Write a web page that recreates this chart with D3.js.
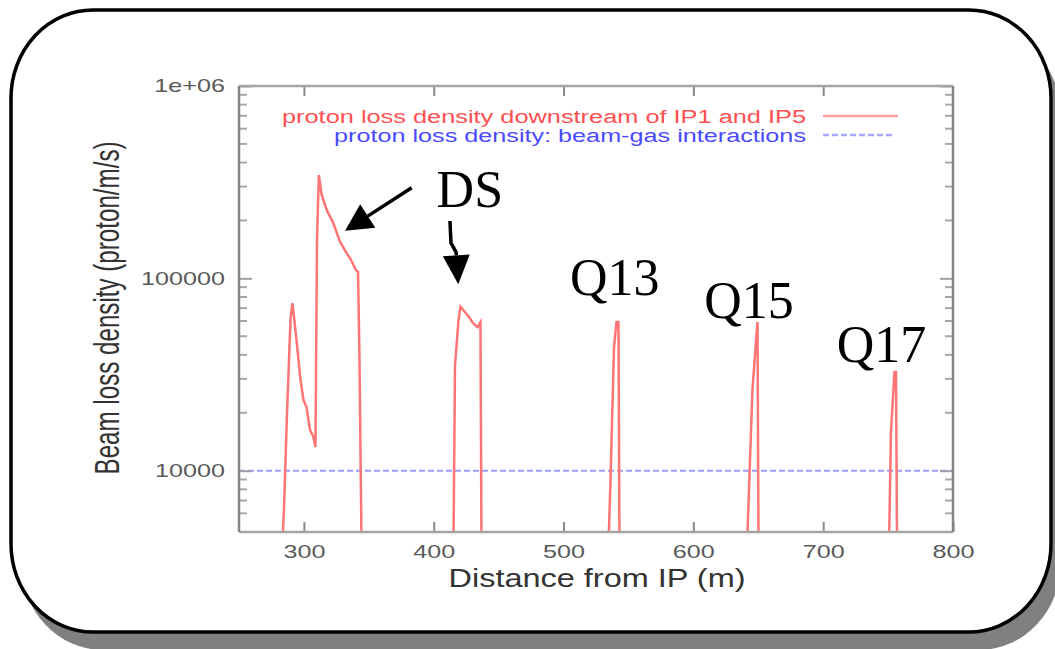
<!DOCTYPE html>
<html>
<head>
<meta charset="utf-8">
<script src="https://cdn.jsdelivr.net/npm/d3@7"></script>
<style>
body { margin: 0; background: #fff; }
svg { display: block; }
</style>
</head>
<body>
<svg id="chart" width="1055" height="649"></svg>
<script>
// proton loss density downstream of IP1 and IP5
// (4000 = below the bottom of the axis, the line runs under the frame there)
var lossDistance = [
  283.4, 284.7, 287.0, 289.7, 291.1, 292.4, 294.7, 297.4, 299.7, 302.0, 304.7, 307.4, 308.9,
  310.1, 311.5, 313.7, 317.6, 322.6, 327.8, 333.0, 335.5, 340.1, 341.7, 342.8, 344.4,
  415.2, 416.4, 419.1, 420.6, 423.3, 427.2, 430.3, 433.7, 436.0, 436.8,
  534.6, 536.2, 538.9, 540.8, 542.3, 543.1,
  641.3, 642.9, 645.5, 648.2, 649.4, 650.2,
  750.7, 752.2, 754.9, 756.1, 756.9
];
var lossDensity = [
  4000, 6470, 19930, 61400, 74390, 62930, 44980, 29590, 23290, 21420, 16260, 14950, 13270,
  158200, 344400, 271200, 226500, 193900, 155000, 134900, 127500, 110400, 107800, 38500, 4000,
  4000, 35400, 60700, 71150, 67610, 62930, 58540, 55810, 59250, 4000,
  4000, 9150, 43930, 59250, 59250, 4000,
  4000, 8120, 26250, 46640, 59250, 4000,
  4000, 15880, 32560, 32560, 4000
];
// proton loss density: beam-gas interactions (flat)
var beamGasLevel = 10000;

var xTicks = [300, 400, 500, 600, 700, 800];
var yTicks = [10000, 100000, 1000000];
var yTickLabels = ["10000", "100000", "1e+06"];
var legendLabels = ["proton loss density downstream of IP1 and IP5",
                    "proton loss density: beam-gas interactions"];

// annotations, in plot coordinates (m, proton/m/s)
var peakLabels = ["DS", "Q13", "Q15", "Q17"];
var peakLabelX = [402.2, 505, 608.4, 710.4];
var peakLabelY = [235700, 81840, 61930, 36800];
var arrowDS1 = [[383.0, 295800], [331.7, 176800]];
var arrowDS2 = [[412.5, 198600], [413.3, 152600], [417.2, 137000], [418.9, 93070]];

function drawLossChart() {
  var svg = d3.select("#chart");
  var plotLeft = 239, plotRight = 953, plotTop = 86, plotBottom = 532;
  var sansFont = "'Liberation Sans', Arial, Helvetica, sans-serif";

  var x = d3.scaleLinear().domain([250, 800]).range([plotLeft, plotRight]);
  var y = d3.scaleLog().domain([4800, 1e6]).range([plotBottom, plotTop]);

  // rounded frame with its shadow
  svg.append("rect")
    .attr("x", 21).attr("y", 28).attr("width", 1040).attr("height", 622)
    .attr("rx", 82).attr("ry", 88)
    .attr("fill", "#808080");
  svg.append("rect")
    .attr("x", 11).attr("y", 10).attr("width", 1040).attr("height", 622)
    .attr("rx", 82).attr("ry", 88)
    .attr("fill", "#fff").attr("stroke", "#000").attr("stroke-width", 3.5);

  svg.append("clipPath").attr("id", "plotClip")
    .append("rect").attr("x", plotLeft).attr("y", plotTop)
    .attr("width", plotRight - plotLeft).attr("height", plotBottom - plotTop);

  var plot = svg.append("g");

  // beam-gas level
  plot.append("line")
    .attr("x1", x(250)).attr("x2", x(800))
    .attr("y1", y(beamGasLevel)).attr("y2", y(beamGasLevel))
    .attr("stroke", "#9d9dff").attr("stroke-width", 2)
    .attr("stroke-dasharray", "6,3");

  // loss density line
  var lossPoints = lossDistance.map((d, i) => [d, lossDensity[i]]);
  plot.append("path")
    .datum(lossPoints)
    .attr("clip-path", "url(#plotClip)")
    .attr("fill", "none")
    .attr("stroke", "#ff7474")
    .attr("stroke-width", 2.5)
    .attr("d", d3.line().x(d => x(d[0])).y(d => y(d[1])));

  // axes, gnuplot style: ticks inside, mirrored
  var xAxis = svg.append("g")
    .attr("transform", `translate(0,${plotBottom})`)
    .call(d3.axisBottom(x).tickValues(xTicks).tickSize(-10).tickPadding(13.5).tickFormat(d3.format("d")));
  xAxis.select(".domain").remove();
  xAxis.selectAll("line").attr("stroke", "#8a8a8a").attr("stroke-width", 2);
  xAxis.selectAll("text")
    .attr("transform", "scale(1.4,1)")
    .attr("font-family", sansFont).attr("font-size", 18).attr("fill", "#5a5a5a");

  var xAxisTop = svg.append("g")
    .attr("transform", `translate(0,${plotTop})`)
    .call(d3.axisTop(x).tickValues(xTicks.slice(0, -1)).tickSize(-10).tickFormat(""));
  xAxisTop.select(".domain").remove();
  xAxisTop.selectAll("line").attr("stroke", "#8a8a8a").attr("stroke-width", 2);

  var yAxis = svg.append("g")
    .attr("transform", `translate(${plotLeft},0)`)
    .call(d3.axisLeft(y).tickValues(yTicks).tickSize(-13).tickPadding(0).tickFormat((d, i) => yTickLabels[i]));
  yAxis.select(".domain").remove();
  yAxis.selectAll("line").attr("stroke", "#a0a0a0").attr("stroke-width", 2);
  yAxis.selectAll("text")
    .attr("x", null)
    .attr("transform", "translate(-14,0) scale(1.4,1)")
    .attr("font-family", sansFont).attr("font-size", 18).attr("fill", "#5a5a5a");

  var yAxisRight = svg.append("g")
    .attr("transform", `translate(${plotRight},0)`)
    .call(d3.axisRight(y).tickValues(yTicks).tickSize(-13).tickFormat(""));
  yAxisRight.select(".domain").remove();
  yAxisRight.selectAll("line").attr("stroke", "#a0a0a0").attr("stroke-width", 2);

  // minor log ticks
  var minorTicks = [];
  for (var k = 3; k <= 5; k++) {
    for (var m = 2; m <= 9; m++) {
      var v = m * Math.pow(10, k);
      if (y(v) > plotTop + 3 && y(v) < plotBottom - 5) minorTicks.push(v);
    }
  }
  svg.append("g").selectAll("line")
    .data(minorTicks).enter().append("line")
    .attr("x1", plotLeft).attr("x2", plotLeft + 8)
    .attr("y1", d => y(d)).attr("y2", d => y(d))
    .attr("stroke", "#a8a8a8").attr("stroke-width", 2);
  svg.append("g").selectAll("line")
    .data(minorTicks).enter().append("line")
    .attr("x1", plotRight).attr("x2", plotRight - 8)
    .attr("y1", d => y(d)).attr("y2", d => y(d))
    .attr("stroke", "#a8a8a8").attr("stroke-width", 2);

  // plot border
  svg.append("line").attr("x1", plotLeft).attr("x2", plotRight).attr("y1", plotTop).attr("y2", plotTop)
    .attr("stroke", "#a4a4a4").attr("stroke-width", 2.5);
  svg.append("line").attr("x1", plotLeft).attr("x2", plotRight).attr("y1", plotBottom).attr("y2", plotBottom)
    .attr("stroke", "#a4a4a4").attr("stroke-width", 2.5);
  svg.append("line").attr("x1", plotLeft).attr("x2", plotLeft).attr("y1", plotTop).attr("y2", plotBottom)
    .attr("stroke", "#858585").attr("stroke-width", 2.5);
  svg.append("line").attr("x1", plotRight).attr("x2", plotRight).attr("y1", plotTop).attr("y2", plotBottom)
    .attr("stroke", "#858585").attr("stroke-width", 2.5);

  // axis labels
  svg.append("text")
    .attr("x", 597).attr("y", 587)
    .attr("text-anchor", "middle")
    .attr("font-family", sansFont).attr("font-size", 25).attr("fill", "#333")
    .attr("textLength", 297).attr("lengthAdjust", "spacingAndGlyphs")
    .text("Distance from IP (m)");

  svg.append("text")
    .attr("transform", "translate(119,308) rotate(-90) scale(1,1.45)")
    .attr("text-anchor", "middle")
    .attr("font-family", sansFont).attr("font-size", 24).attr("fill", "#333")
    .attr("textLength", 333).attr("lengthAdjust", "spacingAndGlyphs")
    .text("Beam loss density (proton/m/s)");

  // legend
  var legendColors = ["#ff4f4f", "#4a4aff"];
  var legendLineColors = ["#ffa0a0", "#a8a8ff"];
  var legendWidths = [524, 472];
  legendLabels.forEach(function(label, i) {
    var ly = 123 + i * 19;
    svg.append("text")
      .attr("x", 806).attr("y", ly)
      .attr("text-anchor", "end")
      .attr("font-family", sansFont).attr("font-size", 18)
      .attr("fill", legendColors[i])
      .attr("textLength", legendWidths[i]).attr("lengthAdjust", "spacingAndGlyphs")
      .text(label);
    svg.append("line")
      .attr("x1", 823).attr("x2", i === 0 ? 898 : 892)
      .attr("y1", ly - 7).attr("y2", ly - 7)
      .attr("stroke", legendLineColors[i]).attr("stroke-width", 2.5)
      .attr("stroke-dasharray", i === 0 ? null : "6,3");
  });

  // annotations
  var notes = svg.append("g");
  notes.selectAll("text")
    .data(peakLabels).enter().append("text")
    .attr("x", (d, i) => x(peakLabelX[i]))
    .attr("y", (d, i) => y(peakLabelY[i]))
    .attr("font-family", "'Liberation Serif', 'Times New Roman', serif")
    .attr("font-size", 52).attr("fill", "#000")
    .text(d => d);

  function drawArrow(g, pts, headLen, headHalf) {
    var p = pts.map(d => [x(d[0]), y(d[1])]);
    var tip = p[p.length - 1], prev = p[p.length - 2];
    var dx = tip[0] - prev[0], dy = tip[1] - prev[1];
    var len = Math.hypot(dx, dy);
    var ux = dx / len, uy = dy / len;
    var base = [tip[0] - ux * headLen, tip[1] - uy * headLen];
    var shaft = p.slice(0, -1).concat([base]);
    g.append("path")
      .attr("d", d3.line()(shaft))
      .attr("fill", "none").attr("stroke", "#000").attr("stroke-width", 3.5);
    g.append("path")
      .attr("d", d3.line()([tip,
        [base[0] - uy * headHalf, base[1] + ux * headHalf],
        [base[0] + uy * headHalf, base[1] - ux * headHalf]]) + "Z")
      .attr("fill", "#000");
  }
  drawArrow(notes, arrowDS1, 27, 14);
  drawArrow(notes, arrowDS2, 29, 13.5);
}

drawLossChart();
</script>
</body>
</html>
